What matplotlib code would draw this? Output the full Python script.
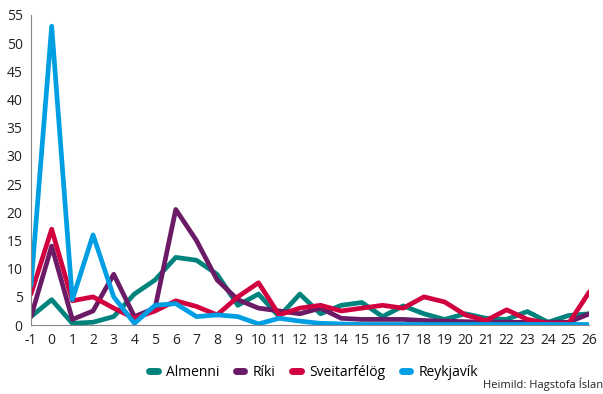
import matplotlib as mpl
from matplotlib import pyplot as plt
from matplotlib.lines import Line2D

mpl.rcParams['font.family'] = ['Open Sans', 'DejaVu Sans']
mpl.rcParams['axes.unicode_minus'] = False

x_vals = list(range(-1, 27))

almenni = [1.5, 4.5, 0.3, 0.5, 1.5, 5.5, 8, 12, 11.5, 9, 3.5, 5.5, 1.5, 5.5,
           2, 3.5, 4, 1.5, 3.4, 2, 1, 2, 1.2, 1, 2.4, 0.5, 1.7, 2]
riki = [1.5, 14, 1, 2.5, 9, 1.5, 3, 20.5, 15, 8, 4.5, 3, 2.5, 2,
        3, 1.2, 1, 1, 1, 0.8, 0.7, 0.6, 0.5, 0.5, 0.5, 0.5, 0.5, 2]
sveitarfelog = [5.5, 17, 4.3, 5, 3, 1.2, 2.5, 4.3, 3.3, 1.8, 5, 7.5, 1.8, 3,
                3.5, 2.5, 3, 3.5, 3, 5, 4.1, 1.8, 0.8, 2.7, 1, 0.3, 0.3, 5.9]
reykjavik = [7, 53, 4.5, 16, 5, 0.3, 3.5, 3.8, 1.5, 1.8, 1.5, 0.2, 1.2, 0.7,
             0.3, 0.2, 0.1, 0.1, 0.1, 0.1, 0.1, 0.1, 0.1, 0.1, 0.1, 0.1, 0.1, 0.1]

series = [("Almenni", almenni, "#00837d"),
          ("Ríki", riki, "#6b1a66"),
          ("Sveitarfélög", sveitarfelog, "#d1003f"),
          ("Reykjavík", reykjavik, "#009fe3")]

fig = plt.figure(figsize=(6.03, 3.94), dpi=100)
ax = fig.add_axes([0.0514, 0.175, 0.926, 0.787])

for name, vals, col in series:
    ax.plot(x_vals, vals, color=col, lw=3.4, solid_joinstyle='round',
            solid_capstyle='round', label=name)

ax.set_xlim(-1, 26)
ax.set_ylim(0, 55)
ax.set_xticks(x_vals)
ax.set_yticks(range(0, 60, 5))
ax.tick_params(length=0, labelsize=10, colors='#222222', pad=6)
for s in ['top', 'right']:
    ax.spines[s].set_visible(False)
ax.spines['left'].set_color('#888888')
ax.spines['bottom'].set_color('#888888')
ax.spines['left'].set_linewidth(0.8)
ax.spines['bottom'].set_linewidth(0.8)

handles = [Line2D([0], [0], color=col, lw=5, solid_capstyle='round')
           for _, _, col in series]
fig.legend(handles, [n for n, _, _ in series], loc='center',
           bbox_to_anchor=(0.52, 0.055), ncol=4, frameon=False,
           fontsize=10, handlelength=0.6, columnspacing=1.2, handletextpad=0.6)

fig.text(1.0, 0.008, "Heimild: Hagstofa Íslan", ha='right', va='bottom',
         fontsize=8, color='#222222')

plt.savefig("out.png", dpi=100)
